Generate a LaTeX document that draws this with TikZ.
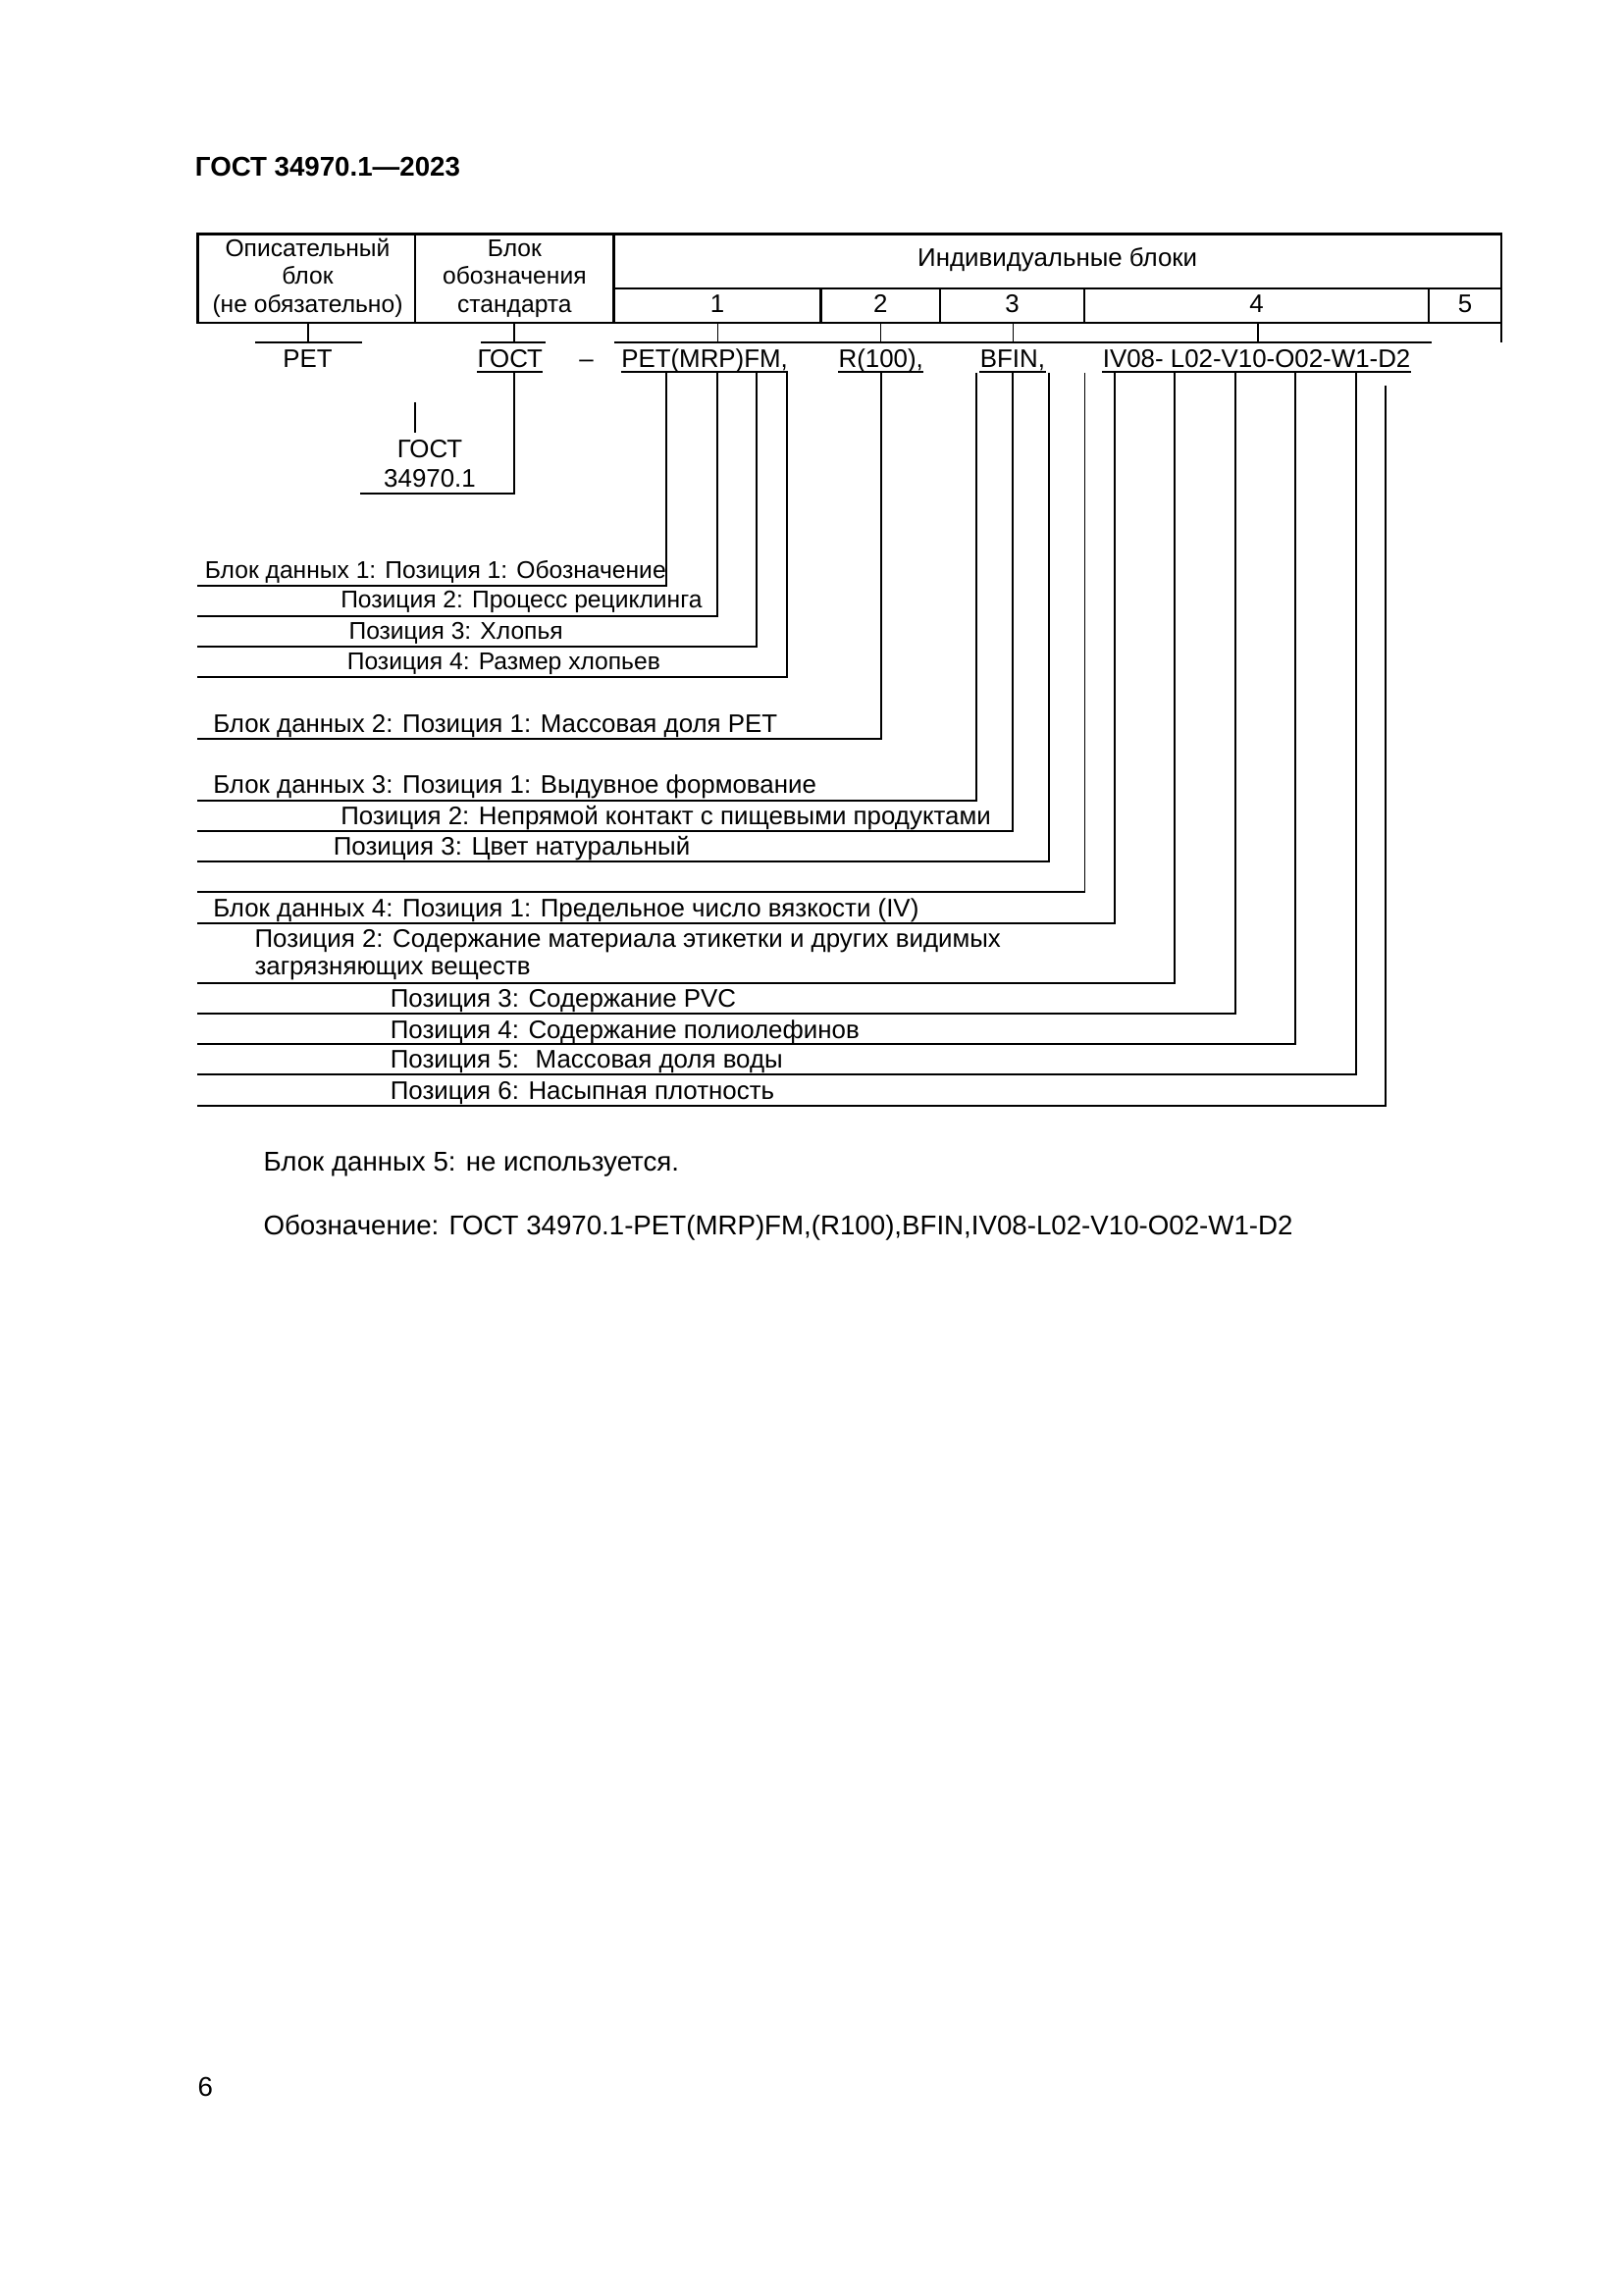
\documentclass[tikz,border=0pt]{standalone}
\usepackage{fontspec}
\setmainfont{Liberation Sans}
\usetikzlibrary{calc}
\tikzset{
  ln/.style={draw=black, line width=0.7pt},                 % connector line
  tb/.style={draw=black, line width=0.8pt},                 % table rule
  txt/.style={anchor=base west, inner sep=0pt, font=\fontsize{9.35}{11}\selectfont},
  txs/.style={txt, font=\fontsize{8.9}{11}\selectfont},     % narrower rows
  ctr/.style={anchor=base, inner sep=0pt, font=\fontsize{9.35}{11}\selectfont},
  cts/.style={ctr, font=\fontsize{8.9}{11}\selectfont},
  note/.style={anchor=base west, inner sep=0pt, font=\fontsize{10}{12}\selectfont},
}

\begin{document}
\begin{tikzpicture}[x=0.127mm, y=-0.127mm]
  \useasboundingbox[fill=white] (0,0) rectangle (1654,2339);
  % ---------------- header ----------------
  \node[anchor=base west, inner sep=0pt, font=\fontsize{10}{12}\selectfont\bfseries]
    (hdr) at (198.4,180) {ГОСТ 34970.1—2023};
  % ---------------- table ----------------
  \draw[tb] (201.5,238.5) rectangle (1530,329);
  \draw[tb] (423.2,238.5) -- (423.2,329) (625.5,238.5) -- (625.5,329)
            (625.5,294.3) -- (1530,294.3) (1530,329) -- (1530,349.3);
  \foreach \x in {836.4,957.9,1105.2,1456}
    \draw[tb] (\x,294.3) -- (\x,329);
  \node[cts] (c1a) at (313.5,261.6) {Описательный};
  \node[cts] (c1b) at (313.5,289.5) {блок};
  \node[cts] (c1c) at (313.5,318.2) {(не обязательно)};
  \node[cts] (c2a) at (524.4,261.6) {Блок};
  \node[cts] (c2b) at (524.4,289.5) {обозначения};
  \node[cts] (c2c) at (524.4,318.2) {стандарта};
  \node[ctr] (ind) at (1077.7,272) {Индивидуальные блоки};
  \foreach \x/\t [count=\i] in {731/1,897.2/2,1031.6/3,1280.6/4,1493/5}
    \node[ctr] (n\i) at (\x,318.3) {\t};
  % ticks and bars under the table
  \foreach \x in {314,524,731.5,897.5,1032.5,1282}
    \draw[ln] (\x,329) -- (\x,349.3);
  \draw[ln] (260,349.3) -- (369,349.3);
  \draw[ln] (490,349.3) -- (556,349.3);
  \draw[ln] (626,349.3) -- (1459.3,349.3);
  % ---------------- code row ----------------
  \node[ctr] (pet)  at (313.5,375)  {PET};
  \node[txt] (gost) at (486,375)    {ГОСТ};
  \node[ctr] (dash) at (597.5,375)  {–};
  \node[txt] (b1)   at (632.7,375)  {PET(MRP)FM,};
  \node[txt] (b2)   at (854,375)    {R(100),};
  \node[txt] (b3)   at (998.3,375)  {BFIN,};
  \node[txt] (b4)   at (1123.3,375) {IV08- L02-V10-O02-W1-D2};
  \foreach \n in {gost,b1,b2,b3,b4}
    \draw[ln] ($(\n.base west)+(0,4.3)$) -- ($(\n.base east)+(0,4.3)$);
  % standard number
  \node[ctr] (std)    at (438,466.7) {ГОСТ};
  \node[ctr] (stdnum) at (438,496.7) {34970.1};
  \coordinate (gtop) at (524,379.3);
  \coordinate (gend) at (366.7,503.3);
  \draw[ln] (gtop) |- (gend);
  \draw[ln] (422.7,410) -- (422.7,441);
  % ---------------- data block connectors ----------------
  \foreach \x/\t/\y [count=\i] in {679/380/596.7, 731/380/627.7, 770.7/380/659.3,
      801.7/380/690, 897.7/380/753.3, 995/380/815.7, 1032.3/380/847.3,
      1068.7/380/878.3, 1105.5/380/909, 1136/380/940.7, 1197.3/380/1001.7,
      1259/380/1032.7, 1320/380/1064, 1381.7/380/1095.3, 1412.3/393/1126.7}
  {
    \coordinate (t\i) at (\x,\t);
    \coordinate (e\i) at (201,\y);
    \draw[ln] (t\i) |- (e\i);
  }
  \node[txs] (d1)  at (208.3,589.3) {Блок данных 1: Позиция 1: Обозначение};
  \node[txs] (d2)  at (346.7,620)   {Позиция 2: Процесс рециклинга};
  \node[txs] (d3)  at (355,651.7)   {Позиция 3: Хлопья};
  \node[txs] (d4)  at (353.3,683)   {Позиция 4: Размер хлопьев};
  \node[txt] (d5)  at (216.7,746.7) {Блок данных 2: Позиция 1: Массовая доля PET};
  \node[txt] (d6)  at (216.7,808.3) {Блок данных 3: Позиция 1: Выдувное формование};
  \node[txt] (d7)  at (346.7,840)   {Позиция 2: Непрямой контакт с пищевыми продуктами};
  \node[txt] (d8)  at (339.3,871.7) {Позиция 3: Цвет натуральный};
  \node[txt] (d10) at (216.7,934.3) {Блок данных 4: Позиция 1: Предельное число вязкости (IV)};
  \node[txt] (d11) at (259,965)     {Позиция 2: Содержание материала этикетки и других видимых};
  \node[txt] (d11b) at (259,993.3)  {загрязняющих веществ};
  \node[txt] (d12) at (397.3,1026.7) {Позиция 3: Содержание PVC};
  \node[txt] (d13) at (397.3,1058.3) {Позиция 4: Содержание полиолефинов};
  \node[txt] (d14) at (397.3,1088.3) {Позиция 5: \ Массовая доля воды};
  \node[txt] (d15) at (397.3,1120)   {Позиция 6: Насыпная плотность};
  % ---------------- notes ----------------
  \node[note] (note5) at (268,1193) {Блок данных 5: не используется.};
  \node[note] (desig) at (268,1258) {Обозначение: ГОСТ 34970.1-PET(MRP)FM,(R100),BFIN,IV08-L02-V10-O02-W1-D2};
  \node[note] (page) at (201,2136) {6};
\end{tikzpicture}
\end{document}
